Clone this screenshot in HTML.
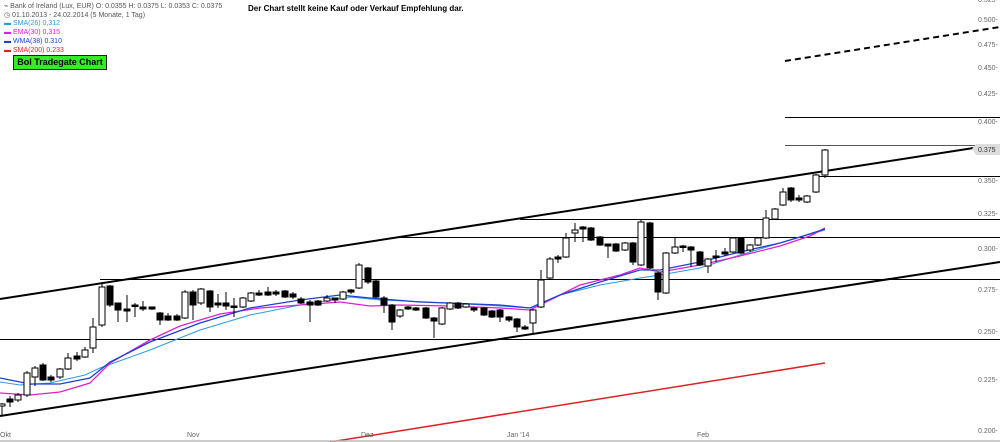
<!DOCTYPE html>
<html><head><meta charset="utf-8"><style>
body{margin:0;background:#fff;width:1000px;height:442px;overflow:hidden;font-family:"Liberation Sans",sans-serif}
svg{position:absolute;left:0;top:0}
.h{position:absolute;font-size:7px;color:#555;white-space:nowrap}
</style></head><body>
<svg id="s" width="1000" height="442" xmlns="http://www.w3.org/2000/svg">
<g stroke="#000" stroke-width="1">
<line x1="785" y1="117.5" x2="1000" y2="117.5"/>
<line x1="785" y1="145.5" x2="1000" y2="145.5" stroke="#555"/>
<line x1="815" y1="176.5" x2="1000" y2="176.5"/>
<line x1="520" y1="219.5" x2="1000" y2="219.5"/>
<line x1="400" y1="237.5" x2="1000" y2="237.5"/>
<line x1="100" y1="279.5" x2="1000" y2="279.5"/>
<line x1="0" y1="339.5" x2="1000" y2="339.5"/>
</g>
<line x1="0" y1="299" x2="980" y2="147" stroke="#000" stroke-width="2"/>
<line x1="0" y1="416" x2="1000" y2="262" stroke="#000" stroke-width="2"/>
<line x1="785" y1="61" x2="1000" y2="27" stroke="#000" stroke-width="2" stroke-dasharray="6,4"/>
<line x1="330" y1="442" x2="825" y2="363" stroke="#d22" stroke-width="1.5"/>
<polyline fill="none" stroke="#2a9be0" stroke-width="1" points="0,382 20,385 50,383 85,375 100,368 150,350 200,330 250,315 300,305 350,297 380,300 450,303 500,306 530,308 560,295 600,285 640,278 660,275 700,268 740,255 780,243 800,237 825,230"/>
<polyline fill="none" stroke="#e020d0" stroke-width="1.3" points="0,393 30,395 60,392 90,383 110,363 150,340 180,326 220,314 260,308 300,305 340,302 370,306 400,305 450,306 500,308 530,310 550,300 580,285 620,275 640,268 660,272 700,265 740,256 780,246 810,236 825,228"/>
<polyline fill="none" stroke="#2040d0" stroke-width="1.3" points="0,378 30,384 60,384 90,378 110,362 150,342 200,323 250,308 300,300 340,295 370,298 420,302 500,305 530,308 560,295 600,282 640,270 660,270 700,262 740,252 780,243 800,237 825,229"/>
<g id="c"></g>
<line x1="0" y1="441" x2="1000" y2="441" stroke="#bbb" stroke-width="1.5"/>
<g font-size="7" fill="#666" font-family="Liberation Sans,sans-serif">
<text x="0" y="437">Okt</text><text x="187" y="437">Nov</text><text x="361" y="437">Dez</text><text x="507" y="437">Jan '14</text><text x="697" y="437">Feb</text>
<text x="978" y="22">0.500-</text><text x="978" y="47">0.475-</text><text x="978" y="70">0.450-</text><text x="978" y="96">0.425-</text><text x="978" y="124">0.400-</text><text x="978" y="183">0.350-</text><text x="978" y="216">0.325-</text><text x="978" y="251">0.300-</text><text x="978" y="292">0.275-</text><text x="978" y="334">0.250-</text><text x="978" y="382">0.225-</text><text x="978" y="433">0.200-</text><text x="978" y="2">0.525-</text>
</g>
<path d="M972,149 L976,144 L1000,144 L1000,155 L976,155 Z" fill="#ddd"/>
<text x="978" y="152" font-size="7" fill="#333" font-family="Liberation Sans,sans-serif">0.375</text>
</svg>
<div class="h" style="left:4px;top:2px">⌁ Bank of Ireland (Lux, EUR) O: 0.0355 H: 0.0375 L: 0.0353 C: 0.0375</div>
<div class="h" style="left:4px;top:11px">◷ 01.10.2013 - 24.02.2014 (5 Monate, 1 Tag)</div>
<div class="h" style="left:4px;top:20px;color:#2a9be0">▬ SMA(26) 0,312</div>
<div class="h" style="left:4px;top:29px;color:#e020d0">▬ EMA(30) 0,315</div>
<div class="h" style="left:4px;top:38px;color:#2040d0">▬ WMA(38) 0.310</div>
<div class="h" style="left:4px;top:47px;color:#d22">▬ SMA(200) 0.233</div>
<div style="position:absolute;left:13px;top:55px;width:92px;height:13px;background:#33ee22;border:1px solid #222;font-size:9px;font-weight:bold;line-height:13px;text-align:center">BoI Tradegate Chart</div>
<div style="position:absolute;left:248px;top:4px;font-size:8px;font-weight:bold">Der Chart stellt keine Kauf oder Verkauf Empfehlung dar.</div>
<script>
var d=[[2,404,406,403,415,0],[10,399,402,396,407,1],[18,395,400,393,402,0],[27,373,395,371,397,0],[35,368,377,366,386,0],[43,365,380,363,381,1],[51,377,380,375,382,1],[60,369,377,368,379,0],[68,358,369,353,370,0],[77,356,359,352,361,1],[85,350,357,347,358,0],[93,327,348,318,353,0],[102,287,325,282,327,0],[110,286,305,285,307,1],[118,303,310,303,322,1],[127,309,311,295,322,1],[135,305,306,303,317,1],[143,307,309,301,311,1],[152,307,309,307,310,1],[160,313,320,312,325,1],[168,316,320,313,321,1],[177,316,320,314,321,1],[185,292,318,290,319,0],[193,292,305,290,320,1],[201,289,303,288,305,0],[210,291,307,290,312,1],[218,303,305,294,308,1],[226,303,306,292,310,1],[234,306,307,298,317,1],[243,298,307,297,308,0],[251,293,301,292,302,0],[259,293,295,290,296,1],[268,292,295,287,296,1],[276,292,294,290,296,1],[285,291,297,290,298,1],[293,294,297,292,299,1],[301,299,303,297,304,1],[310,302,305,300,322,1],[318,301,305,300,306,1],[327,298,301,295,302,0],[335,298,300,298,303,1],[343,292,299,291,300,0],[351,290,292,289,294,1],[359,265,288,263,289,0],[368,268,282,267,284,1],[376,281,297,280,298,1],[384,298,305,296,313,1],[392,305,322,304,330,1],[400,310,316,309,318,0],[408,307,309,306,310,1],[416,308,310,307,311,1],[426,308,318,307,319,1],[434,318,321,317,338,1],[442,308,324,307,325,0],[450,303,309,302,310,0],[458,303,308,302,309,1],[466,304,307,303,308,0],[474,308,310,307,312,1],[484,308,315,307,316,1],[492,311,317,310,318,1],[500,310,317,309,322,1],[509,317,320,316,322,1],[517,319,327,318,332,1],[525,327,329,325,330,1],[533,310,323,309,333,0],[541,280,307,270,308,0],[550,259,278,257,279,0],[558,257,259,255,263,1],[566,238,257,233,258,0],[575,230,233,223,242,0],[583,227,229,226,242,1],[591,228,240,227,241,1],[600,237,245,236,246,1],[608,244,246,244,258,1],[616,244,251,243,252,1],[625,243,250,242,251,0],[633,243,262,242,265,1],[641,222,265,220,266,0],[650,223,268,222,269,1],[658,273,292,272,300,1],[666,253,293,252,294,0],[675,247,253,238,254,0],[683,246,247,245,252,1],[691,247,250,246,267,1],[700,252,265,251,266,1],[708,259,266,258,273,0],[716,256,257,250,262,1],[725,252,254,248,256,1],[733,238,252,237,253,0],[741,238,253,237,254,1],[750,245,250,244,252,0],[758,238,245,237,246,0],[766,218,238,210,239,0],[775,209,219,208,220,0],[783,192,205,188,206,0],[791,188,200,187,202,1],[799,198,200,195,202,1],[807,196,202,195,203,0],[816,175,192,174,193,0],[825,150,175,149,178,0]];
var g=document.getElementById('c'),h='';
d.forEach(function(c){var x=c[0],t=Math.min(c[1],c[2]),b=Math.max(c[1],c[2]);if(b-t<1.5)b=t+1.5;
h+='<line x1="'+x+'" y1="'+c[3]+'" x2="'+x+'" y2="'+c[4]+'" stroke="#000"/>';
h+='<rect x="'+(x-3)+'" y="'+t+'" width="6" height="'+(b-t)+'" fill="'+(c[5]?'#000':'#fff')+'" stroke="#000" stroke-width="1"/>';});
g.innerHTML=h;
</script>
</body></html>
